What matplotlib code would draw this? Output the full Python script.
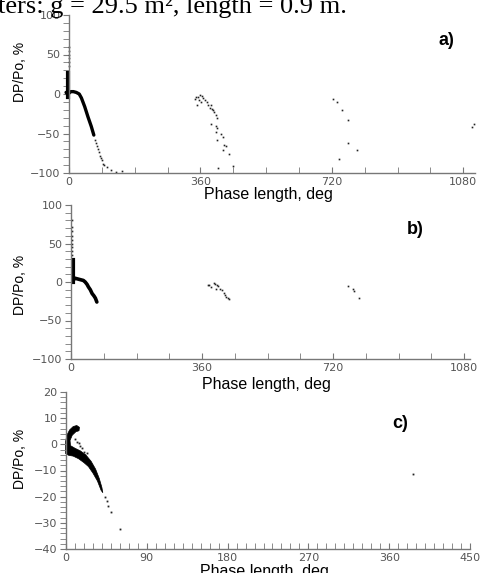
import numpy as np
import matplotlib.pyplot as plt

# ---- panel a) ----
a_band_x = [-8, -4, 0, 5, 12, 20, 28, 34, 43, 52, 61, 68]
a_band_y = [2, 0, 1, 3, 3, 2, 0, -5, -16, -29, -41, -52]
a_spike_x = [-4, -4]
a_spike_y = [27, -4]
a_dots_x = [0, 0, 0, 0, 0, 0, 72, 75, 78, 80, 83, 86, 88, 91, 94, 97, 104, 115, 130, 144,
            359, 363, 354, 348, 345, 368, 372, 356, 361, 377, 350, 381, 388, 386, 391, 395,
            398, 402, 404, 388, 402, 404, 402, 416, 421, 404, 425, 430, 423, 439, 448, 407,
            722, 733, 749, 763, 763, 790, 740, 1109, 1104]
a_dots_y = [35, 40, 45, 50, 55, 60, -58, -62, -66, -70, -74, -78, -81, -84, -88, -90, -93, -96, -99, -97,
            -1, -2.3, -3.2, -4, -5.7, -5.2, -7.3, -8.2, -9.5, -10.7, -13.6, -13.6, -14.5, -17.8, -19, -20.8,
            -22.9, -26.3, -30.5, -38, -41, -43, -48.6, -50.6, -54.4, -58, -65, -66, -70.5, -75.5, -91.5, -93.6,
            -6.5, -10.3, -20, -33.5, -62, -71, -82, -38, -42]

# ---- panel b) ----
b_band_x = [5, 10, 18, 26, 34, 39, 44, 48, 53, 58, 63, 67, 71]
b_band_y = [1, 5, 4, 3, 2, 0, -3, -6.5, -10, -15, -18, -21, -26]
b_spike_x = [6, 6]
b_spike_y = [28, 0]
b_dots_x = [3, 3, 3, 3, 3, 3, 3, 3, 3,
            380, 375, 384, 393, 396, 402, 405, 399, 410, 414, 419, 422, 426, 431, 434,
            762, 774, 776, 792]
b_dots_y = [80, 72, 66, 60, 55, 50, 45, 40, 35,
            -3.4, -4.3, -6.4, -1.3, -3, -3.4, -5.5, -8.5, -8.5, -10.7, -14, -16.3, -20, -21.4, -22.7,
            -5.2, -8.5, -11.6, -20.6]

# ---- panel c) ----
c_blob_x = [-0.5, -0.5, 1, 4, 8, 12, 15, 14.5, 11, 7, 4.5, 5, 10, 16, 22, 28, 33, 37, 40, 41,
            39, 35, 30, 25, 20, 14, 8, 3]
c_blob_y = [-3.5, 1, 3.5, 5.5, 6.8, 7.2, 6.5, 5.2, 4.8, 3.5, 1.5, -0.5, -1.5, -2.5, -4, -6.5, -9.5, -13, -16.5, -18.5,
            -17.5, -14, -11, -8.5, -7, -5.5, -4.5, -4.2]
c_dots_x = [10, 12, 14, 16, 18, 20, 23, 43.7, 45.5, 46.7, 50, 59.6, 387]
c_dots_y = [2, 1, 0.5, -0.5, -1.5, -2.8, -3.5, -20, -21.6, -23.5, -25.8, -32.4, -11.2]

W, H = 487, 573
fig = plt.figure(figsize=(W / 100, H / 100), dpi=100)

grey = '#777777'
lblcol = '#555555'


def px_axes(l, r, t, b):
    ax = fig.add_axes([l / W, 1 - b / H, (r - l) / W, (b - t) / H])
    ax.patch.set_visible(False)
    return ax


def style(ax, xmaj, xmin, ymaj, ymin):
    for s in ['top', 'right']:
        ax.spines[s].set_visible(False)
    for s in ['left', 'bottom']:
        ax.spines[s].set_color(grey)
        ax.spines[s].set_linewidth(1)
    ax.set_xticks(xmaj)
    ax.set_xticks(xmin, minor=True)
    ax.set_yticks(ymaj)
    ax.set_yticks(ymin, minor=True)
    ax.tick_params(axis='x', which='both', direction='in', length=4, color=grey,
                   labelsize=8, labelcolor=lblcol, pad=3)
    ax.tick_params(axis='y', which='both', direction='out', length=4, color=grey,
                   labelsize=8, labelcolor=lblcol, pad=2)


def panel_label(ax, txt, x, y):
    ax.text(x, y, txt, transform=ax.transAxes, fontsize=13, fontweight='bold',
            family='Liberation Sans', ha='center', va='center')


# panel a
ax1 = px_axes(69, 475, 15, 173)
ax1.plot(a_band_x, a_band_y, color='black', lw=2.4, clip_on=False, solid_capstyle='round')
ax1.plot(a_spike_x, a_spike_y, color='black', lw=3, clip_on=False)
ax1.plot(a_dots_x, a_dots_y, 's', color='#222222', ms=1.2, mew=0, clip_on=False)
ax1.set_xlim(0, 1112)
ax1.set_ylim(-100, 100)
style(ax1, [0, 360, 720, 1080], np.arange(0, 1081, 90), [-100, -50, 0, 50, 100], np.arange(-100, 101, 10))
panel_label(ax1, 'a)', 0.93, 0.84)

# panel b
ax2 = px_axes(71, 470, 205, 359)
ax2.plot(b_band_x, b_band_y, color='black', lw=2.6, solid_capstyle='round')
ax2.plot(b_spike_x, b_spike_y, color='black', lw=3)
ax2.plot(b_dots_x, b_dots_y, 's', color='#222222', ms=1.2, mew=0, clip_on=False)
ax2.set_xlim(0, 1096)
ax2.set_ylim(-100, 100)
style(ax2, [0, 360, 720, 1080], np.arange(0, 1081, 90), [-100, -50, 0, 50, 100], np.arange(-100, 101, 10))
panel_label(ax2, 'b)', 0.862, 0.838)

# panel c
ax3 = px_axes(66, 470, 392, 549)
ax3.fill(c_blob_x, c_blob_y, color='black', lw=0.5, clip_on=False)
ax3.plot(c_dots_x, c_dots_y, 's', color='#222222', ms=1.3, mew=0, clip_on=False)
ax3.set_xlim(0, 450)
ax3.set_ylim(-40, 20)
style(ax3, np.arange(0, 451, 90), np.arange(0, 451, 10), np.arange(-40, 21, 10), np.arange(-40, 21, 2))
panel_label(ax3, 'c)', 0.827, 0.80)

# axis labels
for ax, yl in [(ax1, 72), (ax2, 285), (ax3, 459)]:
    pos = ax.get_position()
    ax.set_ylabel('DP/Po, %', fontsize=10, family='Liberation Sans')
    ax.yaxis.set_label_coords(-(pos.x0 * W - 27) / (pos.width * W),
                              (1 - yl / H - pos.y0) / pos.height)
for ax, xl in [(ax1, 187), (ax2, 377), (ax3, 564)]:
    pos = ax.get_position()
    ax.set_xlabel('Phase length, deg', fontsize=11.5, family='Liberation Sans')
    ax.xaxis.set_label_coords(0.49, (1 - xl / H - pos.y0) / pos.height)
    ax.xaxis.label.set_va('top')

# cropped caption line at the top of the page
fig.text(-0.005, 1 - 13 / H, 'ters: g = 29.5 m², length = 0.9 m.', family='Liberation Serif',
         fontsize=19, ha='left', va='baseline')

fig.savefig('out.png', dpi=100)
